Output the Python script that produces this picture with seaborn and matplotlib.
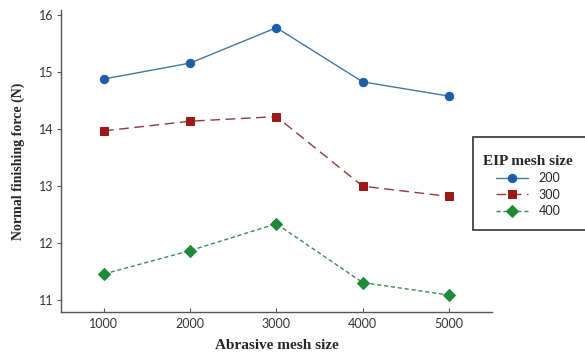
import pandas as pd
import matplotlib.pyplot as plt
import seaborn as sns
from matplotlib.patches import Rectangle

# --- DATA ---
abrasive_mesh = [1000, 2000, 3000, 4000, 5000]
eip_levels = ["200", "300", "400"]
force_200 = [14.88, 15.16, 15.78, 14.83, 14.58]
force_300 = [13.97, 14.14, 14.22, 13.00, 12.82]
force_400 = [11.46, 11.87, 12.34, 11.31, 11.09]

df = pd.DataFrame({
    "Abrasive mesh size": abrasive_mesh * 3,
    "Normal finishing force (N)": force_200 + force_300 + force_400,
    "EIP mesh size": [lvl for lvl in eip_levels for _ in abrasive_mesh],
})

# --- STYLE ---
sns.set_style("white")
line_colors = {"200": "#3f78a8", "300": "#8e3a3a", "400": "#3c8a55"}
marker_colors = {"200": "#1d5ea6", "300": "#9a1a1a", "400": "#1f8a3a"}
markers = {"200": "o", "300": "s", "400": "D"}
dashes = {"200": "", "300": (7, 4), "400": (3, 2)}

fig = plt.figure(figsize=(5.85, 3.58), dpi=100)
ax = fig.add_axes([0.104, 0.128, 0.737, 0.844])

sns.lineplot(data=df, x="Abrasive mesh size", y="Normal finishing force (N)",
             hue="EIP mesh size", style="EIP mesh size", palette=line_colors,
             markers=markers, dashes=dashes, markersize=6, linewidth=1.0,
             legend=False, ax=ax)

# darker markers than the lines
for line, lvl in zip(ax.get_lines(), eip_levels):
    line.set_markerfacecolor(marker_colors[lvl])
    line.set_markeredgecolor(marker_colors[lvl])

ax.set_xlim(500, 5500)
ax.set_ylim(10.79, 16.09)
ax.set_xticks(abrasive_mesh)
ax.set_yticks([11, 12, 13, 14, 15, 16])

tick_font = "Lato"
for lab in ax.get_xticklabels() + ax.get_yticklabels():
    lab.set_family(tick_font)
    lab.set_fontsize(9)
    lab.set_color("#333333")

ax.tick_params(axis="y", left=True, length=3, width=0.8, color="#555555", pad=2)
ax.tick_params(axis="x", bottom=True, direction="in", length=3, width=0.8,
               color="#555555", pad=4)
sns.despine(ax=ax)
for s in ["left", "bottom"]:
    ax.spines[s].set_color("#555555")
    ax.spines[s].set_linewidth(1.0)

ax.set_xlabel("Abrasive mesh size", family="Liberation Serif", weight="bold",
              fontsize=11, labelpad=7)
ax.set_ylabel("Normal finishing force (N)", family="Liberation Serif", weight="bold",
              fontsize=10, labelpad=10)

# legend box, running off the right edge like the original
fig.patches.append(Rectangle((473 / 585, 1 - 230 / 358), 0.25, 93 / 358,
                             transform=fig.transFigure, facecolor="white",
                             edgecolor="#333333", linewidth=1.2, zorder=5))

handles = ax.get_lines()[:3]
leg = fig.legend(handles, eip_levels, title="EIP mesh size",
                 loc="center", bbox_to_anchor=(528 / 585, 1 - 186 / 358),
                 frameon=False, prop={"family": tick_font, "size": 9},
                 handlelength=2.6, labelspacing=0.35, handletextpad=0.8)
leg.get_title().set_family("Liberation Serif")
leg.get_title().set_weight("bold")
leg.get_title().set_fontsize(11)
leg.set_zorder(6)

fig.savefig("out.png", dpi=100)
